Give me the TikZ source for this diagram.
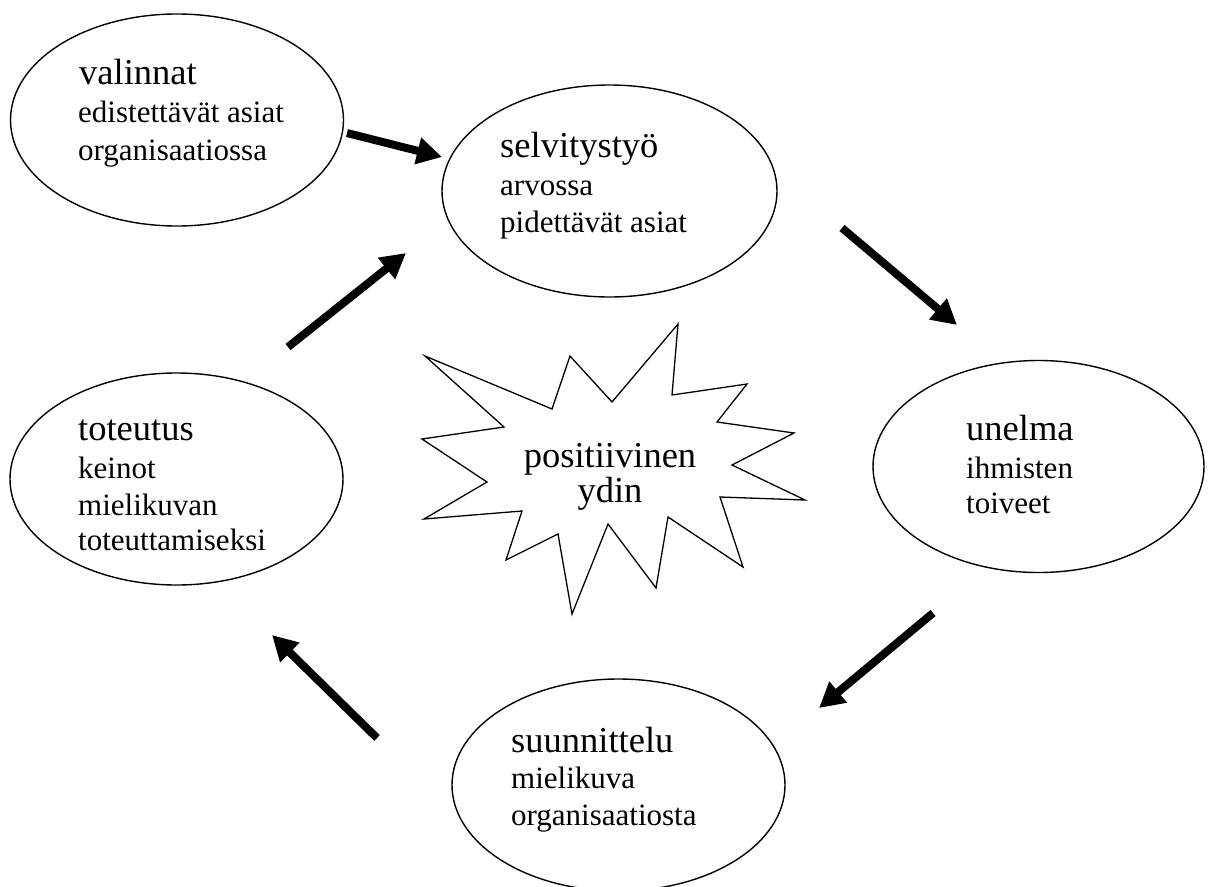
\documentclass[tikz,border=0pt]{standalone}
\usepackage{fontspec}
\setmainfont{Liberation Serif}
\usetikzlibrary{shapes.geometric,arrows.meta}
\tikzset{
  ell/.style={draw, ellipse, line width=1.4pt, inner sep=0pt, minimum width=333pt, minimum height=212pt},
  ttl/.style={anchor=base west, inner sep=0pt, font=\fontsize{36.5}{40}\selectfont},
  sub/.style={anchor=base west, inner sep=0pt, font=\fontsize{31}{36}\selectfont},
  ctr/.style={anchor=base, inner sep=0pt, font=\fontsize{36.5}{40}\selectfont},
  arr/.style={line width=8pt, -{Triangle[length=25pt,width=26pt]}},
  starline/.style={line width=1.3pt, line join=miter}
}
\begin{document}
\begin{tikzpicture}[x=1pt,y=-1pt]
\clip (0,0) rectangle (1209,886);
\fill[white] (0,0) rectangle (1209,886);

% ellipses
\node[ell] (valinnat) at (177,120) {};
\node[ell, minimum width=335pt] (selvitys) at (609.5,191) {};
\node[ell, minimum width=331pt] (unelma) at (1038.5,466.5) {};
\node[ell] (toteutus) at (176.5,479) {};
\node[ell] (suunnittelu) at (618.5,785) {};

% texts
\node[ttl] (v1) at (79,84) {valinnat};
\node[sub] (v2) at (78,122) {edistettävät asiat};
\node[sub] (v3) at (78,160) {organisaatiossa};

\node[ttl] (s1) at (500,157) {selvitystyö};
\node[sub] (s2) at (500,195) {arvossa};
\node[sub] (s3) at (500,232) {pidettävät asiat};

\node[ttl] (u1) at (966,440) {unelma};
\node[sub] (u2) at (966,478) {ihmisten};
\node[sub] (u3) at (966,513) {toiveet};

\node[ttl] (t1) at (78,440) {toteutus};
\node[sub] (t2) at (78,478) {keinot};
\node[sub] (t3) at (78,515) {mielikuvan};
\node[sub] (t4) at (78,550) {toteuttamiseksi};

\node[ttl] (n1) at (511,752) {suunnittelu};
\node[sub] (n2) at (511,788) {mielikuva};
\node[sub] (n3) at (511,825) {organisaatiosta};

% star
\draw[starline] (425,356) -- (552,409) -- (570,356) -- (612,402) -- (678,324)
  -- (672,395) -- (747,384) -- (717,422) -- (794,433) -- (732,465)
  -- (805,500) -- (720,497) -- (743,567) -- (668,517) -- (656,588)
  -- (608,524) -- (572,614) -- (558,534) -- (506,560) -- (522,511)
  -- (424,519) -- (487,482) -- (422,439) -- (504,427) -- cycle;
\node[ctr] (core1) at (610,467) {positiivinen};
\node[ctr] (core2) at (610,502) {ydin};

% arrows
\coordinate (a1s) at (347,133); \coordinate (a1e) at (442,157);
\coordinate (a2s) at (842,228); \coordinate (a2e) at (957,325);
\coordinate (a3s) at (933,613); \coordinate (a3e) at (819,708);
\coordinate (a4s) at (377,738); \coordinate (a4e) at (272,635);
\coordinate (a5s) at (288,347); \coordinate (a5e) at (406,253);
\draw[arr] (a1s) -- (a1e);
\draw[arr] (a2s) -- (a2e);
\draw[arr] (a3s) -- (a3e);
\draw[arr] (a4s) -- (a4e);
\draw[arr] (a5s) -- (a5e);
\end{tikzpicture}
\end{document}
